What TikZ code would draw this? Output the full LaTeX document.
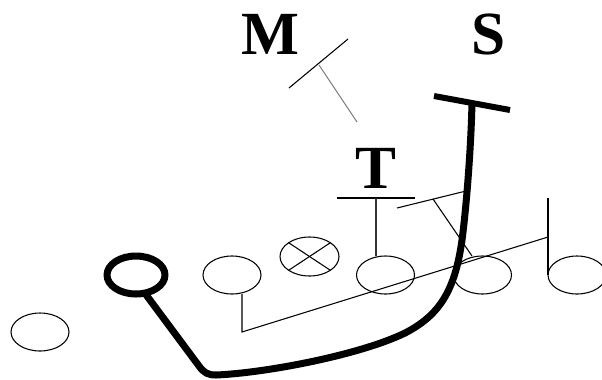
\documentclass[tikz,border=0pt]{standalone}
\usepackage{fontspec}
\setmainfont{Liberation Serif}
\tikzset{
  player/.style={line width=0.8pt},
  block/.style={line width=0.8pt},
  lead/.style={line width=5.25pt, line join=round},
  tag/.style={font=\fontsize{46}{46}\selectfont\bfseries, inner sep=0pt},
}
\begin{document}
\begin{tikzpicture}[x=0.75pt,y=-0.75pt]
  \useasboundingbox (0,0) rectangle (602,379);

  % line of scrimmage and backs
  \coordinate (lb) at (40,332);
  \coordinate (qb) at (136,275);
  \coordinate (lg) at (232,275);
  \coordinate (cn) at (309.5,256.5);
  \coordinate (rg) at (385.5,275);
  \coordinate (rt) at (482.5,275);
  \coordinate (te) at (577,275);

  \foreach \p in {lb,lg,rg,rt,te}
    \draw[player] (\p) ellipse (29 and 19);
  \draw[player] (cn) ellipse (29.5 and 19.5);
  \draw[player] (cn) +(45:29.5 and 19.5) -- +(225:29.5 and 19.5);
  \draw[player] (cn) +(135:29.5 and 19.5) -- +(315:29.5 and 19.5);
  \draw[lead] (qb) ellipse (29 and 19);

  % defenders
  \node[tag] (m) at (270,34.5) {M};
  \node[tag] (t) at (375.5,168.5) {T};
  \node[tag] (s) at (488.5,34.5) {S};

  % blocks
  \draw[block] (242,294) -- (242,332) -- (548,237);
  \draw[block] ([xshift=-29*0.75pt]te) -- (548,198);
  \draw[block] (289,88) -- (348,39);
  \draw[block, gray] (319,65) -- (357,122);
  \draw[block] (337,198) -- (415,198);
  \draw[block, black!80] (376,198) -- (376,256);
  \draw[block] (397,208) -- (466,191);
  \draw[block] (433,199) -- (472,256);

  % qb route
  \draw[lead] (144,292) -- (199,366) .. controls (204,373) and (208,375) .. (216,375)
    .. controls (265,373) and (360,355) .. (405,333)
    .. controls (440,315) and (455,290) .. (462,240)
    .. controls (466,210) and (471,150) .. (472,102);
  \draw[line width=4.5pt] (434,96) -- (510,110);
\end{tikzpicture}
\end{document}
